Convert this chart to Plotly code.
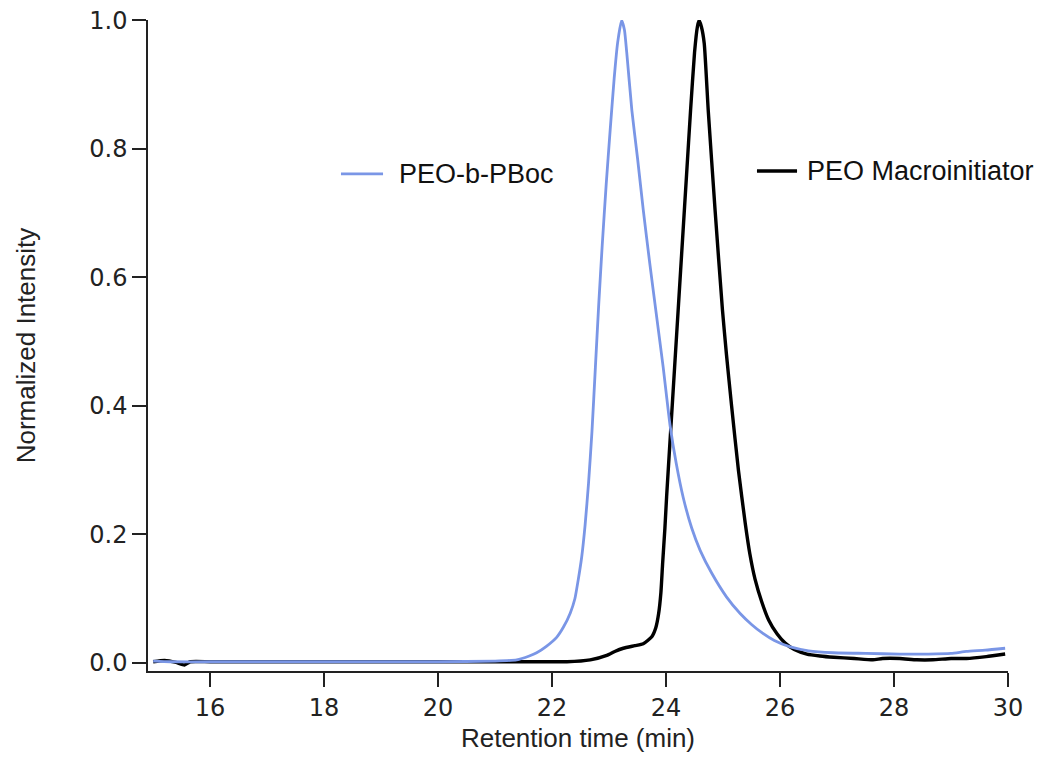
import plotly.graph_objects as go

# PEO-b-PBoc (blue)
blue_x = [15.0, 15.3, 16.0, 17.0, 18.0, 19.0, 20.0, 21.0, 21.38, 21.6, 21.73, 21.9, 22.08, 22.2,
          22.32, 22.40, 22.46, 22.52, 22.58, 22.64, 22.70, 22.76, 22.82, 22.88, 22.95, 23.02,
          23.09, 23.15, 23.22, 23.27, 23.31, 23.40, 23.50, 23.60, 23.71, 23.82, 23.95, 24.07,
          24.18, 24.30, 24.45, 24.60, 24.80, 25.06, 25.30, 25.50, 25.70, 25.90, 26.18, 26.50,
          26.93, 27.5, 28.10, 28.6, 29.0, 29.27, 29.6, 29.95]
blue_y = [0.003, 0.002, 0.002, 0.002, 0.002, 0.002, 0.002, 0.003, 0.005, 0.011, 0.016, 0.026, 0.040, 0.056,
          0.078, 0.100, 0.130, 0.165, 0.215, 0.280, 0.360, 0.460, 0.560, 0.650, 0.745, 0.830,
          0.910, 0.965, 1.000, 0.985, 0.950, 0.860, 0.785, 0.705, 0.625, 0.549, 0.460, 0.370,
          0.310, 0.258, 0.210, 0.175, 0.140, 0.103, 0.077, 0.060, 0.046, 0.035, 0.025, 0.019,
          0.016, 0.015, 0.014, 0.014, 0.015, 0.018, 0.020, 0.023]

# PEO Macroinitiator (black)
black_x = [15.0, 15.2, 15.4, 15.55, 15.65, 16.0, 17.0, 18.0, 19.0, 20.0, 21.0, 22.0, 22.26, 22.67,
           22.96, 23.1, 23.25, 23.45, 23.60, 23.75, 23.82, 23.87, 23.91, 23.94, 23.98, 24.01,
           24.08, 24.15, 24.22, 24.29, 24.36, 24.43, 24.50, 24.55, 24.58, 24.62, 24.67, 24.74,
           24.86, 24.99, 25.06, 25.15, 25.27, 25.39, 25.47, 25.56, 25.68, 25.80, 25.95, 26.09,
           26.25, 26.47, 26.70, 26.94, 27.3, 27.63, 27.8, 28.10, 28.4, 28.68, 29.0, 29.27,
           29.62, 29.95]
black_y = [0.002, 0.004, 0.001, -0.003, 0.002, 0.002, 0.002, 0.002, 0.002, 0.002, 0.002, 0.002, 0.002, 0.005,
           0.012, 0.018, 0.023, 0.027, 0.030, 0.041, 0.055, 0.077, 0.110, 0.155, 0.210, 0.259,
           0.360, 0.460, 0.560, 0.660, 0.760, 0.860, 0.950, 0.990, 1.000, 0.990, 0.964, 0.860,
           0.705, 0.549, 0.480, 0.400, 0.300, 0.217, 0.170, 0.131, 0.095, 0.067, 0.045, 0.031,
           0.021, 0.014, 0.011, 0.009, 0.007, 0.005, 0.007, 0.007, 0.005, 0.005, 0.007, 0.007,
           0.010, 0.014]

x_ticks = [16, 18, 20, 22, 24, 26, 28, 30]
y_ticks = [0.0, 0.2, 0.4, 0.6, 0.8, 1.0]

blue = "rgb(122,150,230)"
black = "#000000"

fig = go.Figure()
fig.add_trace(go.Scatter(x=black_x, y=black_y, mode="lines", name="PEO Macroinitiator",
                         line=dict(color=black, width=3.4, shape="spline", smoothing=0.5)))
fig.add_trace(go.Scatter(x=blue_x, y=blue_y, mode="lines", name="PEO-b-PBoc",
                         line=dict(color=blue, width=2.8, shape="spline", smoothing=0.5)))

tick_font = dict(family="DejaVu Sans", size=24, color="#222")
title_font = dict(family="Liberation Sans", size=26, color="#222")

fig.update_xaxes(range=[14.91, 30.0], tickvals=x_ticks, ticks="outside", ticklen=14, tickwidth=1.5,
                 tickcolor="#222", showline=True, linecolor="#222", linewidth=1.5, showgrid=False,
                 zeroline=False, tickfont=tick_font, ticklabeloverflow="allow", automargin=False,
                 title=dict(text="Retention time (min)", font=title_font, standoff=19))
fig.update_yaxes(range=[-0.0124, 1.0005], tickvals=y_ticks, tickformat=".1f", ticks="outside",
                 ticklen=14, tickwidth=1.5, tickcolor="#222", showline=True, linecolor="#222",
                 linewidth=1.5, showgrid=False, zeroline=False, tickfont=tick_font,
                 ticklabeloverflow="allow", automargin=False,
                 title=dict(text="Normalized Intensity", font=title_font, standoff=46))

# legend-style labels placed beside the peaks
legend_items = [("PEO-b-PBoc", blue, 2.8, 0.2244, 0.2733, 0.2895, 0.7635),
                ("PEO Macroinitiator", black, 3.4, 0.7081, 0.7547, 0.7640, 0.768)]
for text, col, w, x0, x1, xt, yy in legend_items:
    fig.add_shape(type="line", xref="paper", yref="paper", x0=x0, x1=x1, y0=yy, y1=yy,
                  line=dict(color=col, width=w))
    fig.add_annotation(text=text, xref="paper", yref="paper", x=xt, y=yy, xanchor="left",
                       yanchor="middle", showarrow=False,
                       font=dict(family="Liberation Sans", size=27, color="#111"))

# page body adds an 8px margin; keep the figure small enough to avoid scrollbars
fig.update_layout(width=1032, height=745, margin=dict(l=140, r=32, t=12, b=82),
                  plot_bgcolor="white", paper_bgcolor="white", showlegend=False)

fig.write_html("out.html")
